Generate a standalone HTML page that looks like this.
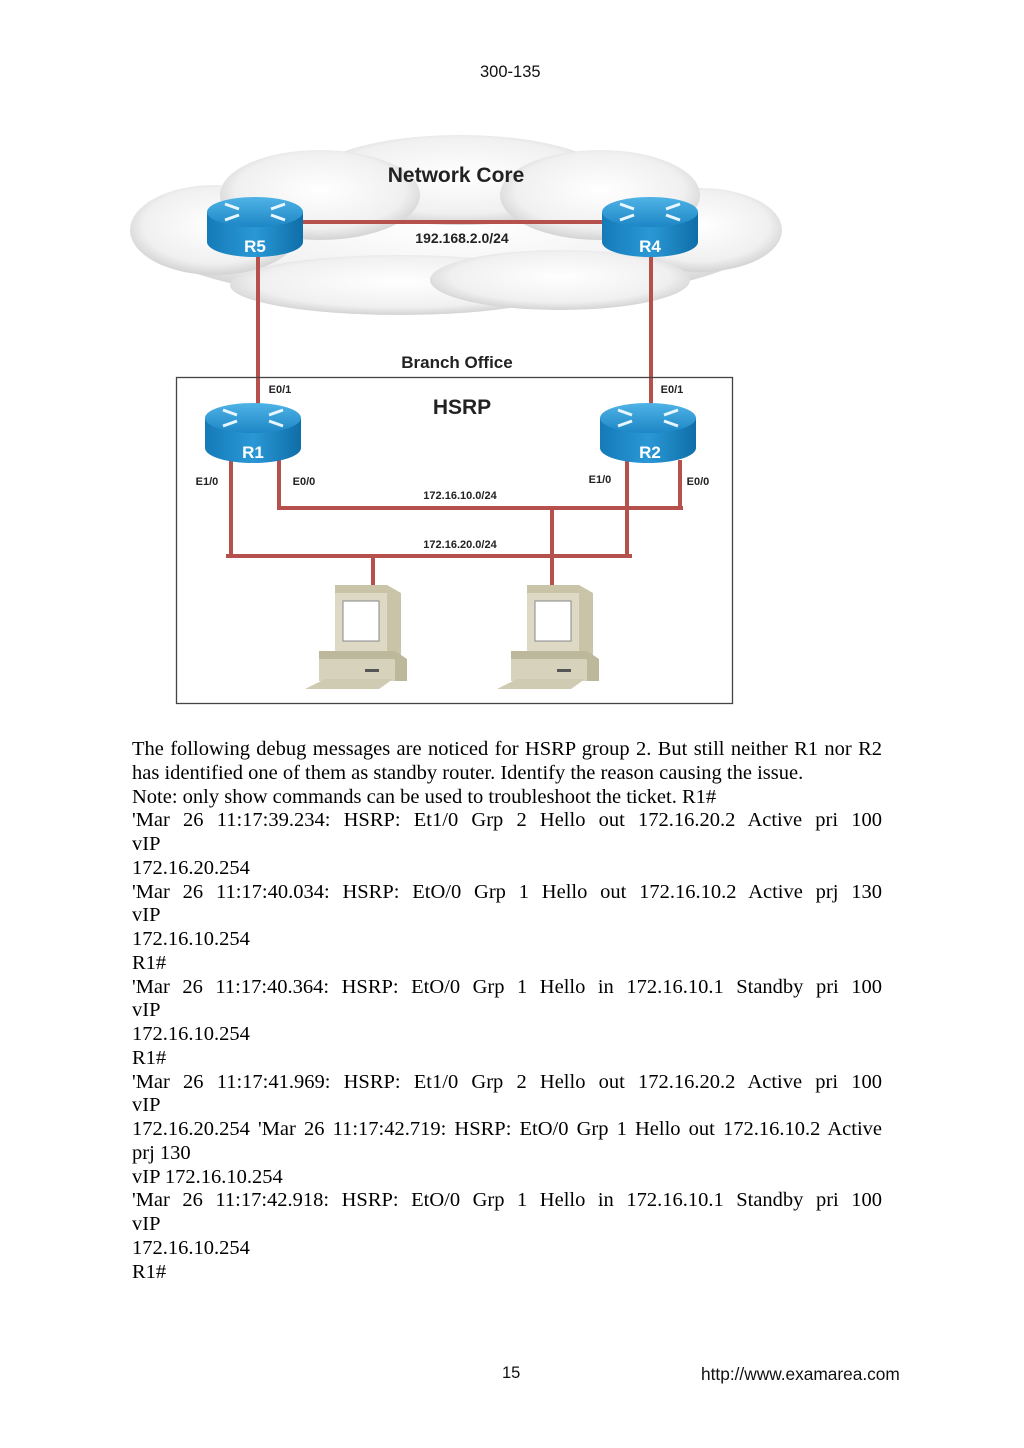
<!DOCTYPE html>
<html><head><meta charset="utf-8"><style>
body{margin:0;background:#fff;width:1024px;height:1448px;position:relative;overflow:hidden}
.h{position:absolute;font-family:"Liberation Sans",sans-serif;font-size:16.5px;color:#111}
#txt{position:absolute;left:132px;top:738px;width:750px;font-family:"Liberation Serif",serif;font-size:20.5px;line-height:23.75px;color:#000;text-align:justify;white-space:nowrap}
#txt div{text-align-last:justify}
#txt div.n{text-align-last:left}
</style></head><body>
<div class="h" style="left:480px;top:63px">300-135</div>
<svg style="position:absolute;left:0;top:0" width="1024" height="720" font-family="Liberation Sans,sans-serif" font-weight="bold">
<defs>
<radialGradient id="cg" cx="50%" cy="45%" r="60%"><stop offset="0" stop-color="#fff"/><stop offset="0.7" stop-color="#f0f0f0"/><stop offset="1" stop-color="#c8c8c8"/></radialGradient>
<linearGradient id="rt" x1="0" y1="0" x2="0" y2="1"><stop offset="0" stop-color="#4fb3e6"/><stop offset="1" stop-color="#1d86c5"/></linearGradient>
<linearGradient id="rs" x1="0" y1="0" x2="1" y2="0"><stop offset="0" stop-color="#157ab8"/><stop offset="0.5" stop-color="#2a98d6"/><stop offset="1" stop-color="#0f6ea8"/></linearGradient>
<g id="router">
<path d="M-48 0 v30 a48 15 0 0 0 96 0 v-30z" fill="url(#rs)"/>
<ellipse cx="0" cy="0" rx="48" ry="15" fill="url(#rt)"/>
<g stroke="#e8f6ff" stroke-width="3" fill="none"><path d="M-30 -8 l14 5"/><path d="M30 8 l-14 -5"/><path d="M-30 8 l14 -5"/><path d="M30 -8 l-14 5"/></g>
</g>
<g id="pc">
<path d="M30 0 h52 l14 8 v62 h-66z" fill="#c9c4a8"/><rect x="30" y="8" width="52" height="62" fill="#ddd9c4"/><rect x="38" y="16" width="36" height="40" fill="#fff" stroke="#888"/>
<path d="M14 66 h76 l12 8 v22 h-88z" fill="#bdb89c"/><rect x="14" y="74" width="76" height="22" fill="#d6d2bc"/>
<path d="M0 104 l20 -10 h68 l-14 10z" fill="#cfcab2"/><rect x="60" y="84" width="14" height="3" fill="#555"/>
</g>
</defs>
<g fill="url(#cg)">
<ellipse cx="455" cy="235" rx="310" ry="70"/>
<ellipse cx="215" cy="230" rx="85" ry="45"/><ellipse cx="700" cy="230" rx="82" ry="42"/>
<ellipse cx="460" cy="180" rx="150" ry="45"/><ellipse cx="320" cy="195" rx="100" ry="45"/><ellipse cx="600" cy="195" rx="100" ry="45"/>
<ellipse cx="400" cy="285" rx="170" ry="30"/><ellipse cx="560" cy="280" rx="130" ry="30"/>
</g>
<g stroke="#b5504d" stroke-width="4" fill="none">
<line x1="300" y1="222" x2="605" y2="222"/>
<line x1="258" y1="255" x2="258" y2="405"/><line x1="651" y1="255" x2="651" y2="405"/>
<path d="M279 460 V508 H683 M680 460 V508"/>
<path d="M231 460 V556 M226 556 H632 M627 460 V556"/>
<line x1="373" y1="556" x2="373" y2="588"/><line x1="552" y1="508" x2="552" y2="588"/>
</g>
<rect x="176.5" y="377.5" width="556" height="326" fill="none" stroke="#444" stroke-width="1.3"/>
<use href="#router" x="255" y="212"/><use href="#router" x="650" y="212"/>
<use href="#router" x="253" y="418"/><use href="#router" x="648" y="418"/>
<use href="#pc" x="305" y="585"/><use href="#pc" x="497" y="585"/>
<g fill="#fff" font-size="17" text-anchor="middle"><text x="255" y="252">R5</text><text x="650" y="252">R4</text><text x="253" y="458">R1</text><text x="650" y="458">R2</text></g>
<g fill="#222" text-anchor="middle">
<text x="456" y="182" font-size="21">Network Core</text>
<text x="462" y="243" font-size="14">192.168.2.0/24</text>
<text x="457" y="368" font-size="17">Branch Office</text>
<text x="462" y="414" font-size="21">HSRP</text>
<text x="460" y="499" font-size="11">172.16.10.0/24</text>
<text x="460" y="548" font-size="11">172.16.20.0/24</text>
<g font-size="11"><text x="280" y="393">E0/1</text><text x="672" y="393">E0/1</text><text x="207" y="485">E1/0</text><text x="304" y="485">E0/0</text><text x="600" y="483">E1/0</text><text x="698" y="485">E0/0</text></g>
</g>
</svg>
<div id="txt">
<div>The following debug messages are noticed for HSRP group 2. But still neither R1 nor R2</div>
<div class="n">has identified one of them as standby router. Identify the reason causing the issue.</div>
<div class="n">Note: only show commands can be used to troubleshoot the ticket. R1#</div>
<div>'Mar 26 11:17:39.234: HSRP: Et1/0 Grp 2 Hello out 172.16.20.2 Active pri 100</div>
<div class="n">vIP<br>172.16.20.254</div>
<div>'Mar 26 11:17:40.034: HSRP: EtO/0 Grp 1 Hello out 172.16.10.2 Active prj 130</div>
<div class="n">vIP<br>172.16.10.254<br>R1#</div>
<div>'Mar 26 11:17:40.364: HSRP: EtO/0 Grp 1 Hello in 172.16.10.1 Standby pri 100</div>
<div class="n">vIP<br>172.16.10.254<br>R1#</div>
<div>'Mar 26 11:17:41.969: HSRP: Et1/0 Grp 2 Hello out 172.16.20.2 Active pri 100</div>
<div class="n">vIP</div>
<div>172.16.20.254 'Mar 26 11:17:42.719: HSRP: EtO/0 Grp 1 Hello out 172.16.10.2 Active</div>
<div class="n">prj 130<br>vIP 172.16.10.254</div>
<div>'Mar 26 11:17:42.918: HSRP: EtO/0 Grp 1 Hello in 172.16.10.1 Standby pri 100</div>
<div class="n">vIP<br>172.16.10.254<br>R1#</div>
</div>
<div class="h" style="left:502px;top:1364px">15</div>
<div class="h" style="left:701px;top:1364px;font-size:17.3px">http://www.examarea.com</div>
</body></html>
